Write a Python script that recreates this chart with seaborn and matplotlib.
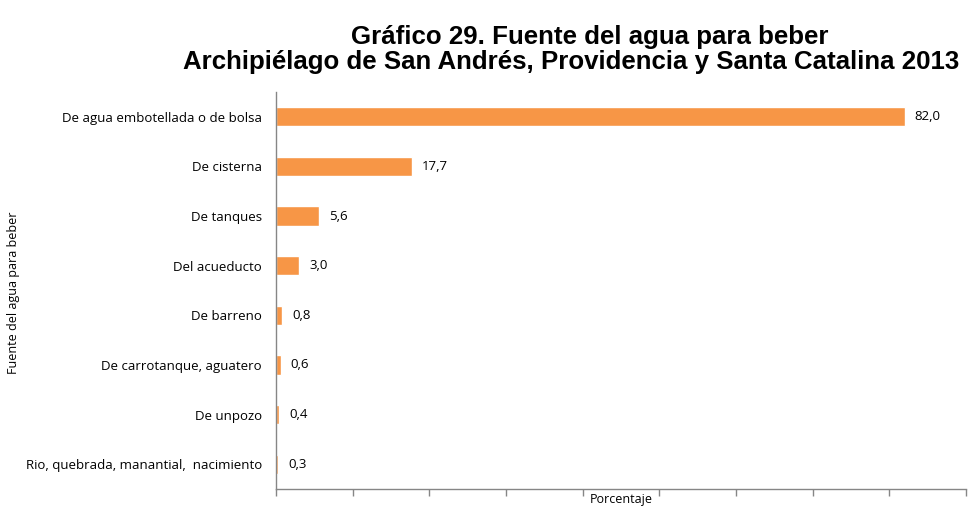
import matplotlib
matplotlib.use("Agg")
import matplotlib.pyplot as plt
import seaborn as sns
import pandas as pd

categories = [
    "De agua embotellada o de bolsa",
    "De cisterna",
    "De tanques",
    "Del acueducto",
    "De barreno",
    "De carrotanque, aguatero",
    "De unpozo",
    "Rio, quebrada, manantial,  nacimiento",
]
values = [82.0, 17.7, 5.6, 3.0, 0.8, 0.6, 0.4, 0.3]
x_ticks = [0, 10, 20, 30, 40, 50, 60, 70, 80, 90]

df = pd.DataFrame({"fuente": categories, "pct": values})

sns.set_theme(style="white")
plt.rcParams["font.family"] = ["Open Sans", "DejaVu Sans"]
plt.rcParams["text.color"] = "black"

fig = plt.figure(figsize=(9.72, 5.08), dpi=100)
ax = fig.add_axes([276 / 972, 1 - 489 / 508, 690 / 972, 397 / 508])

sns.barplot(data=df, x="pct", y="fuente", orient="h", color="#F79646",
            saturation=1, width=0.39, ax=ax)

ax.set_xlim(0, 90)
ax.set_xticks(x_ticks)
ax.set_xticklabels([])
ax.tick_params(axis="x", bottom=True, length=5, width=1, color="#868686", direction="out")
ax.tick_params(axis="y", left=False, length=0, labelsize=9.5, pad=10, labelcolor="black")
for s in ["top", "right"]:
    ax.spines[s].set_visible(False)
for s in ["left", "bottom"]:
    ax.spines[s].set_color("#868686")
    ax.spines[s].set_linewidth(1)

ax.set_xlabel("")
ax.set_ylabel("")
fig.text(621 / 972, 1 - 500 / 508, "Porcentaje", ha="center", va="center", fontsize=9)
fig.text(14 / 972, 1 - 293 / 508, "Fuente del agua para beber", rotation=90,
         ha="center", va="center", fontsize=9)

for i, v in enumerate(values):
    ax.text(v + 1.3, i, f"{v:.1f}".replace(".", ","), va="center", ha="left", fontsize=9.5)

title_font = dict(family=["Liberation Sans", "DejaVu Sans"], fontweight="bold", fontsize=18.6)
fig.text(590 / 972, 1 - 44 / 508, "Gráfico 29. Fuente del agua para beber",
         ha="center", va="baseline", **title_font)
fig.text(571 / 972, 1 - 69 / 508, "Archipiélago de San Andrés, Providencia y Santa Catalina 2013",
         ha="center", va="baseline", **title_font)

fig.savefig("out.png", dpi=100)
